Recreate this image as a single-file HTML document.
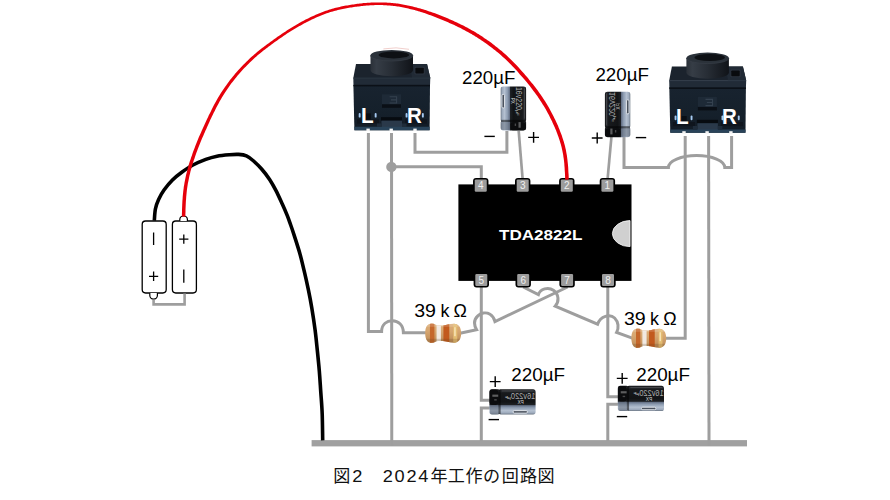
<!DOCTYPE html>
<html><head><meta charset="utf-8"><title>circuit</title>
<style>html,body{margin:0;padding:0;background:#fff;width:890px;height:500px;overflow:hidden}svg{display:block}</style>
</head><body>
<svg width="890" height="500" viewBox="0 0 890 500">
<rect width="890" height="500" fill="#fff"/>
<defs>
<linearGradient id="capg" x1="0" x2="1" y1="0" y2="0">
 <stop offset="0" stop-color="#66717e"/><stop offset="0.05" stop-color="#9ba8ba"/>
 <stop offset="0.15" stop-color="#b4c0d0"/><stop offset="0.27" stop-color="#8c9bb0"/><stop offset="0.35" stop-color="#657186"/>
 <stop offset="0.385" stop-color="#1d2024"/><stop offset="0.5" stop-color="#121416"/>
 <stop offset="0.85" stop-color="#17191c"/><stop offset="0.94" stop-color="#2c2f34"/><stop offset="1" stop-color="#101113"/>
</linearGradient>
<linearGradient id="cylg" x1="0" x2="1" y1="0" y2="0">
 <stop offset="0" stop-color="#2a3038"/><stop offset="0.14" stop-color="#363d46"/>
 <stop offset="0.5" stop-color="#272d35"/><stop offset="0.85" stop-color="#171b21"/><stop offset="1" stop-color="#101318"/>
</linearGradient>
<linearGradient id="bodyg" x1="0" x2="0" y1="0" y2="1">
 <stop offset="0" stop-color="#18232f"/><stop offset="0.6" stop-color="#15202b"/><stop offset="1" stop-color="#121b25"/>
</linearGradient>
<linearGradient id="resg" x1="0" x2="0" y1="0" y2="1">
 <stop offset="0" stop-color="#dcae78"/><stop offset="0.4" stop-color="#d6a670"/><stop offset="1" stop-color="#bb8a56"/>
</linearGradient>

<!-- capacitor: upright, leads at bottom (not drawn), silver stripe at left. origin = top-left, 25.4 x 44 -->
<g id="cap">
 <path d="M2.6,0 L22.8,0 Q25.4,0 25.4,2.4 L25.4,33.4 L24.9,34.6 L25.4,35.8 L25.4,41.6 Q25.4,44 22.6,44 L2.8,44 Q0,44 0,41.6 L0,35.8 L0.5,34.6 L0,33.4 L0,2.4 Q0,0 2.6,0 Z" fill="url(#capg)"/>
 <rect x="0.4" y="33.3" width="24.6" height="2.2" fill="#000" opacity="0.5"/>
 <rect x="0.2" y="35.5" width="9.4" height="8" rx="2" fill="#5d6774" opacity="0.45"/>
 <rect x="9.6" y="35.6" width="15.6" height="8.2" rx="2.4" fill="#0b0c0e"/>
 <rect x="17.8" y="35.6" width="2.2" height="5.6" fill="#d8d8d8" opacity="0.4"/>
 <rect x="14" y="37" width="1.4" height="2.4" fill="#d8d8d8" opacity="0.3"/>
 <rect x="1.3" y="7.8" width="2.5" height="13.6" rx="1.1" fill="#4a525e" stroke="#f1f4f8" stroke-width="0.8"/>
 <g transform="translate(15.4,2.6) rotate(90)" font-family="Liberation Sans, sans-serif" fill="#d9d9d9">
  <text x="-2.3" y="0" font-size="8.4" textLength="23.2" lengthAdjust="spacingAndGlyphs" fill="#bdbdbd" opacity="0.9">16v220</text>
  <text x="21" y="-0.4" font-size="4.2" textLength="5.6" lengthAdjust="spacingAndGlyphs">µF</text>
  <text x="8.6" y="5" font-size="4.8" textLength="6" lengthAdjust="spacingAndGlyphs" fill="#d6d6d6">PX</text>
 </g>
 <rect x="23.2" y="2" width="1" height="30" fill="#777" opacity="0.35"/>
</g>

<!-- resistor: origin = left-centre, length 35.5, height 19 -->
<g id="res">
 <clipPath id="resclip"><path d="M0,0 C0,-6 2,-9.6 6.5,-9.6 C9.5,-9.6 10.5,-7.8 12.5,-7.8 L17,-7.8 C20,-7.8 24,-9.5 28.5,-9.5 C33,-9.5 35.5,-6 35.5,0 C35.5,6 33,9.5 28.5,9.5 C24,9.5 20,7.8 17,7.8 L12.5,7.8 C10.5,7.8 9.5,9.6 6.5,9.6 C2,9.6 0,6 0,0 Z"/></clipPath>
 <path d="M0,0 C0,-6 2,-9.6 6.5,-9.6 C9.5,-9.6 10.5,-7.8 12.5,-7.8 L17,-7.8 C20,-7.8 24,-9.5 28.5,-9.5 C33,-9.5 35.5,-6 35.5,0 C35.5,6 33,9.5 28.5,9.5 C24,9.5 20,7.8 17,7.8 L12.5,7.8 C10.5,7.8 9.5,9.6 6.5,9.6 C2,9.6 0,6 0,0 Z" fill="url(#resg)"/>
 <g clip-path="url(#resclip)">
  <rect x="4.7" y="-10" width="4.4" height="20" fill="#c5672b"/>
  <rect x="11.2" y="-10" width="4.3" height="20" fill="#f1e9e1"/>
  <rect x="18" y="-10" width="5.8" height="20" fill="#c25a1e"/>
  <rect x="27.7" y="-10" width="4" height="20" fill="#e3bc72"/>
  <rect x="28.6" y="-6" width="1.6" height="9" fill="#fff3d0" opacity="0.7"/>
  <rect x="0" y="-10" width="36" height="3.6" fill="#fff" opacity="0.16"/>
  <rect x="0" y="5.6" width="36" height="4.4" fill="#5a3a1a" opacity="0.2"/>
 </g>
</g>

<!-- jack: origin at (352,50): width 80, height 81 -->
<g id="jack">
 <!-- top face -->
 <path d="M4,14 L75,14 L78.3,28 L1.3,28 Z" fill="#1b232d"/>
 <path d="M58,14 L75,14 L78.3,28 L60,28 Z" fill="#212a35"/>
 <!-- ledge -->
 <path d="M1.3,28 L78.3,28 L78,35.4 L1.5,35.4 Z" fill="#212b37"/>
 <rect x="1.4" y="27.6" width="76.8" height="1" fill="#2a3542"/>
 <!-- front body -->
 <path d="M1.4,35 L78,35 L77.6,80.2 L2.4,80.2 Z" fill="url(#bodyg)"/>
 <rect x="1.5" y="34.8" width="76.5" height="1.6" fill="#0b1017"/>
 <!-- slot on top -->
 <rect x="62.4" y="16.8" width="10.4" height="7.8" rx="1" fill="#2b333e"/>
 <rect x="63.4" y="17.8" width="8.4" height="5.8" rx="0.8" fill="#090b0e"/>
 <!-- emboss -->
 <rect x="30" y="44.3" width="19" height="10.2" fill="#1e2a37"/>
 <path d="M37.6,46.8 L44.6,46.8 L44.6,53 L37.6,53 M39,49.9 L44.6,49.9" fill="none" stroke="#34414f" stroke-width="1.1"/>
 <rect x="30" y="54.3" width="19" height="3.5" fill="#0a0f16"/>
 <!-- dark hollows under L/R -->
 <rect x="13.8" y="63.4" width="5" height="6.4" fill="#0a0e14"/>
 <rect x="5" y="69.4" width="22" height="4.2" fill="#0f151d"/>
 <rect x="53" y="69.4" width="22" height="4.2" fill="#0f151d"/>
 <!-- bottom relief -->
 <rect x="29" y="67.2" width="21" height="3.6" fill="#070b10"/>
 <rect x="29.5" y="70.6" width="20.5" height="8" fill="#2a394a"/>
 <path d="M2.3,76.8 L77.7,76.8 L77.5,80.2 L2.5,80.2 Z" fill="#294359"/>
 <rect x="25" y="73.4" width="4.5" height="3.6" fill="#1f2c3a"/>
 <rect x="50" y="73.4" width="4.5" height="3.6" fill="#1f2c3a"/>
 <!-- cylinder -->
 <path d="M18.5,5.4 L18.5,20 A21.25,6.2 0 0 0 61,20 L61,5.4 Z" fill="url(#cylg)"/>
 <ellipse cx="39.75" cy="5.5" rx="21.25" ry="5.5" fill="#2b323a"/>
 <path d="M18.5,5.5 A21.25,5.5 0 0 0 39.75,11 A21.25,5.5 0 0 0 61,5.5" fill="none" stroke="#394049" stroke-width="0.9" opacity="0.7"/>
 <ellipse cx="41.8" cy="4.9" rx="15.2" ry="3.5" fill="#0d1014"/>
 <!-- small highlights -->
 <rect x="6.7" y="63" width="1.9" height="4.6" rx="0.9" fill="#a6caf2"/>
 <rect x="22.7" y="63" width="1.9" height="4.6" rx="0.9" fill="#a6caf2"/>
 <rect x="53.6" y="63" width="1.9" height="4.6" rx="0.9" fill="#a6caf2"/>
 <rect x="69.9" y="63" width="1.9" height="4.6" rx="0.9" fill="#a6caf2"/>
 <!-- white pin tips -->
 <rect x="14.4" y="78.6" width="3.4" height="2.6" fill="#f4f4f4"/>
 <rect x="37.5" y="78.6" width="3.4" height="2.6" fill="#f4f4f4"/>
 <rect x="61.3" y="78.6" width="3.4" height="2.6" fill="#f4f4f4"/>
</g>
</defs>
<rect x="311.6" y="440.1" width="435.4" height="6.3" fill="#a0a0a0"/>
<path d="M368.4,133 L368.4,331.5 L381.6,331.5 C381.6,316.8 403.4,316.8 403.4,332.8 L426,332.8" fill="none" stroke="#9e9e9e" stroke-width="3" stroke-linejoin="miter" />
<path d="M391.5,133 L391.8,446" fill="none" stroke="#9e9e9e" stroke-width="3" stroke-linejoin="miter" />
<circle cx="391.4" cy="166.9" r="5.2" fill="#9e9e9e"/>
<path d="M391.5,166.7 L481.3,166.7 L481.3,180" fill="none" stroke="#9e9e9e" stroke-width="3" stroke-linejoin="miter" />
<path d="M415,133 L415,152.3 L506.9,152.3 L506.9,131" fill="none" stroke="#9e9e9e" stroke-width="3" stroke-linejoin="miter" />
<path d="M518.7,131 L522.7,180" fill="none" stroke="#9e9e9e" stroke-width="2.7" stroke-linejoin="miter" />
<path d="M611.4,137 L607.5,180" fill="none" stroke="#9e9e9e" stroke-width="2.7" stroke-linejoin="miter" />
<path d="M624,137 L624,167.5 L668.4,167.5 A28.2,12 0 0 1 724.8,167.5 L731.6,167.5 L731.6,136" fill="none" stroke="#9e9e9e" stroke-width="3" stroke-linejoin="miter" />
<path d="M685.2,136 L685.2,338.2 L666,338.2" fill="none" stroke="#9e9e9e" stroke-width="3" stroke-linejoin="miter" />
<path d="M708.6,136 L709,446" fill="none" stroke="#9e9e9e" stroke-width="3" stroke-linejoin="miter" />
<path d="M481.3,286 L481.3,400.3 L491,400.3" fill="none" stroke="#9e9e9e" stroke-width="3" stroke-linejoin="miter" />
<path d="M491,408 L481.3,408 L481.3,441" fill="none" stroke="#9e9e9e" stroke-width="3" stroke-linejoin="miter" />
<path d="M607.8,286 L607.8,396.8 L619,396.8" fill="none" stroke="#9e9e9e" stroke-width="3" stroke-linejoin="miter" />
<path d="M619,404.2 L607.8,404.2 L607.8,441" fill="none" stroke="#9e9e9e" stroke-width="3" stroke-linejoin="miter" />
<path d="M460,333.2 L476.6,329.8 C470,318 482,309.6 490,314.2 C493,316 494.4,319 495,321.6 L567.6,287" fill="none" stroke="#9e9e9e" stroke-width="3" stroke-linejoin="miter" />
<path d="M523.2,287 L538.4,294.6 C540.2,288.8 548.2,286.6 553.4,290.2 C559.2,294.4 559.2,301.6 555.2,306.2 L597.6,324.2 C600.4,316 610,313.4 614.6,318 C618.6,322 619,328 616.6,332.4 L633,338.4" fill="none" stroke="#9e9e9e" stroke-width="3" stroke-linejoin="miter" />
<rect x="458.4" y="184.4" width="173.1" height="96.5" fill="#000"/>
<path d="M630,220.6 A17.6,13 0 0 0 630,246.6 Z" fill="#d0d0d0" stroke="#f2f2f2" stroke-width="0.9"/>
<rect x="473.05" y="177.9" width="15.4" height="15" rx="3" fill="#000"/>
<rect x="474.75" y="179.4" width="12" height="12.3" rx="1.2" fill="#9c9c9c"/>
<text x="480.75" y="189.1" text-anchor="middle" font-family="Liberation Sans, sans-serif" font-size="10" fill="#f0f0f0">4</text>
<rect x="515.00" y="177.9" width="15.4" height="15" rx="3" fill="#000"/>
<rect x="516.70" y="179.4" width="12" height="12.3" rx="1.2" fill="#9c9c9c"/>
<text x="522.7" y="189.1" text-anchor="middle" font-family="Liberation Sans, sans-serif" font-size="10" fill="#f0f0f0">3</text>
<rect x="559.10" y="177.9" width="15.4" height="15" rx="3" fill="#000"/>
<rect x="560.80" y="179.4" width="12" height="12.3" rx="1.2" fill="#9c9c9c"/>
<text x="566.8" y="189.1" text-anchor="middle" font-family="Liberation Sans, sans-serif" font-size="10" fill="#f0f0f0">2</text>
<rect x="599.70" y="177.9" width="15.4" height="15" rx="3" fill="#000"/>
<rect x="601.40" y="179.4" width="12" height="12.3" rx="1.2" fill="#9c9c9c"/>
<text x="607.4" y="189.1" text-anchor="middle" font-family="Liberation Sans, sans-serif" font-size="10" fill="#f0f0f0">1</text>
<rect x="473.60" y="272.6" width="15.4" height="15" rx="3" fill="#000"/>
<rect x="475.30" y="273.9" width="12" height="12" rx="1.2" fill="#9c9c9c"/>
<text x="481.3" y="283.5" text-anchor="middle" font-family="Liberation Sans, sans-serif" font-size="10" fill="#f0f0f0">5</text>
<rect x="515.50" y="272.6" width="15.4" height="15" rx="3" fill="#000"/>
<rect x="517.20" y="273.9" width="12" height="12" rx="1.2" fill="#9c9c9c"/>
<text x="523.2" y="283.5" text-anchor="middle" font-family="Liberation Sans, sans-serif" font-size="10" fill="#f0f0f0">6</text>
<rect x="559.40" y="272.6" width="15.4" height="15" rx="3" fill="#000"/>
<rect x="561.10" y="273.9" width="12" height="12" rx="1.2" fill="#9c9c9c"/>
<text x="567.1" y="283.5" text-anchor="middle" font-family="Liberation Sans, sans-serif" font-size="10" fill="#f0f0f0">7</text>
<rect x="600.30" y="272.6" width="15.4" height="15" rx="3" fill="#000"/>
<rect x="602.00" y="273.9" width="12" height="12" rx="1.2" fill="#9c9c9c"/>
<text x="608.0" y="283.5" text-anchor="middle" font-family="Liberation Sans, sans-serif" font-size="10" fill="#f0f0f0">8</text>
<text x="499" y="240.4" font-family="Liberation Sans, sans-serif" font-weight="bold" font-size="15.2" fill="#fff" textLength="83.4" lengthAdjust="spacingAndGlyphs">TDA2822L</text>
<use href="#jack" x="352" y="50"/>
<use href="#jack" x="667.9" y="52.6"/>
<path d="M383.4,48.9 Q396,46.6 409,49.3" fill="none" stroke="#e9b4ae" stroke-width="0.8" opacity="0.8"/>
<g font-family="Liberation Sans, sans-serif" font-weight="bold" font-size="21.6" fill="#fff"><text transform="translate(360.9,123.4) scale(0.96,1)">L</text><text transform="translate(407.0,123.4) scale(0.95,1)">R</text></g>
<g font-family="Liberation Sans, sans-serif" font-weight="bold" font-size="21.6" fill="#fff"><text transform="translate(675.9,124.1) scale(0.96,1)">L</text><text transform="translate(722.0,124.1) scale(0.95,1)">R</text></g>
<use href="#cap" transform="translate(500.7,86.6) scale(1,0.998)"/>
<use href="#cap" transform="translate(630.3,91.7) scale(-1,1.036)"/>
<use href="#cap" transform="translate(535.6,414.4) rotate(90) scale(-0.99,1.05)"/>
<use href="#cap" transform="translate(664,411) rotate(90) scale(-0.99,1.05)"/>
<use href="#res" transform="translate(425.2,333.2) scale(1.012,1)"/>
<use href="#res" transform="translate(631.4,338.2) scale(0.98,1)"/>
<rect x="142.2" y="221" width="24" height="72" rx="3.4" fill="#fff" stroke="#000" stroke-width="1.3"/>
<rect x="172.4" y="221" width="24" height="72" rx="3.4" fill="#fff" stroke="#000" stroke-width="1.3"/>
<path d="M149.8,293 L149.8,295.6 A3.8,3.6 0 0 0 157.4,295.6 L157.4,293" fill="#fff" stroke="#000" stroke-width="1.2"/>
<path d="M179.8,221 L179.8,219.6 A3.8,3.6 0 0 1 187.4,219.6 L187.4,221" fill="#fff" stroke="#000" stroke-width="1.2"/>
<path d="M153.6,232.4 L153.6,245 M153.6,271.6 L153.6,281 M149,276.3 L158.2,276.3 M183.8,234.4 L183.8,243.8 M179.2,239.1 L188.4,239.1 M183.8,269.6 L183.8,282.8" stroke="#000" stroke-width="1.3" fill="none"/>
<path d="M153.6,299.4 L153.6,304.4 L184.6,304.4 L184.6,293.6" fill="none" stroke="#9e9e9e" stroke-width="2.6"/>
<path d="M154.3,220.6 C154.5,218.7 154.7,212.5 155.4,209.0 C156.1,205.5 157.1,202.6 158.6,199.4 C160.1,196.2 161.9,193.0 164.2,189.8 C166.5,186.6 169.3,183.1 172.2,180.2 C175.1,177.3 178.3,174.7 181.8,172.2 C185.3,169.7 189.0,167.1 193.0,165.0 C197.0,162.9 201.8,160.9 205.8,159.4 C209.8,157.9 213.0,157.0 217.0,156.2 C221.0,155.4 226.0,155.0 229.6,154.7 C233.2,154.4 235.8,154.2 238.6,154.4 C241.4,154.6 243.9,154.8 246.4,155.9 C248.9,157.0 251.1,158.8 253.6,161.0 C256.1,163.2 258.9,165.9 261.6,169.0 C264.3,172.1 267.2,175.8 269.6,179.4 C272.0,183.0 273.9,186.5 276.0,190.6 C278.1,194.7 280.5,200.1 282.4,204.2 C284.3,208.3 285.8,211.9 287.2,215.4 C288.6,218.9 289.5,221.7 290.7,225.0 C291.9,228.3 292.7,230.7 294.2,235.4 C295.7,240.1 298.0,247.1 299.7,253.0 C301.4,258.9 302.6,264.4 304.1,270.6 C305.6,276.8 307.2,284.2 308.5,290.4 C309.8,296.6 310.7,301.4 311.8,308.0 C312.9,314.6 314.2,323.1 315.1,330.0 C316.0,336.9 316.5,342.4 317.2,349.2 C317.9,356.0 318.7,363.6 319.3,370.8 C319.9,378.0 320.3,385.2 320.8,392.4 C321.3,399.6 321.9,406.0 322.2,414.0 C322.5,422.0 322.6,436.0 322.7,440.4" fill="none" stroke="#000" stroke-width="3.6"/>
<path d="M185.3,216.7 L185.4,215.4 L185.4,213.8 L185.5,211.9 L185.5,209.8 L185.6,207.6 L185.7,205.3 L185.8,203.1 L185.9,201.0 L186.1,199.1 L186.2,197.1 L186.4,195.1 L186.6,193.1 L186.8,191.1 L187.0,189.2 L187.3,187.2 L187.6,185.3 L187.9,183.3 L188.3,181.4 L188.7,179.5 L189.1,177.5 L189.5,175.6 L190.0,173.7 L190.4,171.8 L190.9,169.9 L191.5,167.9 L192.0,166.0 L192.6,164.1 L193.2,162.2 L193.8,160.3 L194.5,158.4 L195.1,156.5 L195.8,154.6 L196.4,152.8 L197.1,150.9 L197.8,149.1 L198.5,147.3 L199.2,145.5 L199.9,143.8 L200.6,142.0 L201.3,140.3 L202.0,138.6 L202.7,137.0 L203.4,135.4 L204.1,133.8 L204.8,132.2 L205.5,130.5 L206.3,128.9 L207.0,127.2 L207.8,125.5 L208.6,123.7 L209.4,121.9 L210.2,120.1 L211.1,118.3 L211.9,116.5 L212.8,114.7 L213.7,112.8 L214.7,111.0 L215.6,109.0 L216.6,107.1 L217.6,105.2 L218.7,103.2 L219.7,101.3 L220.8,99.4 L221.9,97.6 L223.0,95.8 L224.1,94.0 L225.2,92.2 L226.4,90.4 L227.6,88.7 L228.8,87.0 L230.0,85.3 L231.2,83.6 L232.5,82.0 L233.7,80.4 L235.0,78.8 L236.3,77.2 L237.6,75.6 L239.0,74.1 L240.3,72.5 L241.6,71.1 L242.9,69.6 L244.3,68.1 L245.7,66.7 L247.1,65.3 L248.4,63.9 L249.8,62.5 L251.2,61.2 L252.5,60.0 L253.8,58.7 L255.1,57.6 L256.4,56.4 L257.6,55.3 L258.9,54.3 L260.2,53.2 L261.4,52.2 L262.6,51.2 L263.8,50.3 L265.0,49.4 L266.1,48.5 L267.3,47.7 L268.4,46.8 L269.5,46.0 L270.6,45.2 L271.8,44.3 L272.9,43.5 L274.1,42.6 L275.2,41.8 L276.4,41.0 L277.5,40.2 L278.7,39.3 L279.8,38.5 L281.0,37.7 L282.2,36.9 L283.4,36.1 L284.6,35.3 L285.8,34.4 L287.0,33.6 L288.3,32.8 L289.5,32.0 L290.7,31.3 L291.9,30.5 L293.2,29.7 L294.4,29.0 L295.7,28.2 L296.9,27.5 L298.2,26.8 L299.4,26.1 L300.7,25.4 L301.9,24.7 L303.1,24.0 L304.4,23.3 L305.6,22.7 L306.9,22.0 L308.1,21.4 L309.4,20.8 L310.6,20.2 L311.8,19.6 L313.1,19.0 L314.3,18.4 L315.6,17.8 L316.8,17.3 L318.0,16.7 L319.3,16.2 L320.5,15.7 L321.7,15.2 L323.0,14.7 L324.2,14.2 L325.5,13.8 L326.7,13.3 L327.9,12.9 L329.2,12.5 L330.4,12.1 L331.6,11.7 L332.9,11.4 L334.1,11.0 L335.3,10.7 L336.6,10.4 L337.8,10.1 L339.1,9.8 L340.3,9.5 L341.5,9.2 L342.8,9.0 L344.0,8.7 L345.3,8.5 L346.5,8.3 L347.7,8.0 L349.0,7.8 L350.2,7.6 L351.5,7.4 L352.7,7.2 L353.9,7.0 L355.2,6.8 L356.4,6.7 L357.7,6.5 L358.9,6.4 L360.2,6.2 L361.4,6.1 L362.6,5.9 L363.9,5.8 L365.1,5.7 L366.4,5.6 L367.6,5.5 L368.8,5.4 L370.1,5.3 L371.3,5.3 L372.6,5.2 L373.8,5.2 L375.0,5.1 L376.3,5.1 L377.5,5.1 L378.7,5.1 L380.0,5.1 L381.2,5.1 L382.5,5.1 L383.7,5.2 L384.9,5.2 L386.2,5.3 L387.4,5.4 L388.6,5.5 L389.9,5.6 L391.1,5.7 L392.4,5.8 L393.6,6.0 L394.8,6.1 L396.1,6.3 L397.3,6.5 L398.5,6.6 L399.8,6.8 L401.0,7.1 L402.2,7.3 L403.5,7.5 L404.7,7.8 L405.9,8.0 L407.2,8.3 L408.4,8.6 L409.7,8.9 L410.9,9.2 L412.1,9.5 L413.4,9.8 L414.6,10.1 L415.8,10.5 L417.1,10.8 L418.3,11.2 L419.6,11.6 L420.8,11.9 L422.0,12.3 L423.3,12.7 L424.5,13.1 L425.7,13.6 L427.0,14.0 L428.2,14.4 L429.5,14.9 L430.7,15.3 L431.9,15.8 L433.2,16.2 L434.4,16.7 L435.7,17.2 L436.9,17.7 L438.1,18.2 L439.4,18.7 L440.6,19.2 L441.9,19.7 L443.1,20.2 L444.3,20.7 L445.6,21.3 L446.8,21.8 L448.1,22.3 L449.3,22.9 L450.5,23.5 L451.8,24.0 L453.0,24.6 L454.3,25.1 L455.5,25.7 L456.7,26.3 L458.0,26.9 L459.2,27.5 L460.5,28.1 L461.7,28.8 L462.9,29.4 L464.2,30.0 L465.4,30.7 L466.7,31.4 L467.9,32.0 L469.1,32.7 L470.4,33.4 L471.6,34.1 L472.8,34.9 L474.1,35.6 L475.3,36.4 L476.5,37.1 L477.8,37.9 L479.0,38.7 L480.3,39.6 L481.6,40.4 L482.9,41.3 L484.2,42.2 L485.4,43.1 L486.8,44.0 L488.1,45.0 L489.4,46.0 L490.8,47.0 L492.2,48.1 L493.6,49.2 L495.1,50.3 L496.5,51.4 L497.9,52.6 L499.4,53.8 L500.8,55.1 L502.3,56.4 L503.8,57.7 L505.3,59.1 L506.8,60.5 L508.3,62.0 L509.8,63.5 L511.3,64.9 L512.7,66.4 L514.2,68.0 L515.6,69.5 L517.1,71.1 L518.5,72.7 L519.9,74.4 L521.3,76.0 L522.7,77.5 L524.0,79.1 L525.3,80.6 L526.6,82.1 L527.8,83.6 L529.0,85.1 L530.2,86.6 L531.3,88.0 L532.4,89.4 L533.5,90.9 L534.5,92.3 L535.6,93.7 L536.5,95.0 L537.5,96.3 L538.4,97.7 L539.3,99.0 L540.2,100.4 L541.1,101.8 L542.0,103.2 L542.9,104.7 L543.8,106.1 L544.7,107.6 L545.6,109.1 L546.4,110.6 L547.2,112.1 L548.0,113.6 L548.9,115.1 L549.7,116.7 L550.4,118.2 L551.2,119.8 L552.0,121.3 L552.7,122.9 L553.4,124.4 L554.1,126.0 L554.8,127.5 L555.4,129.1 L556.1,130.6 L556.7,132.2 L557.3,133.7 L557.8,135.3 L558.4,136.8 L558.9,138.3 L559.4,139.8 L559.9,141.3 L560.3,142.8 L560.8,144.3 L561.2,145.8 L561.6,147.3 L561.9,148.8 L562.3,150.4 L562.6,151.9 L562.9,153.5 L563.2,155.1 L563.4,156.7 L563.7,158.4 L563.9,160.0 L564.1,161.8 L564.3,163.6 L564.4,165.5 L564.6,167.8 L564.7,170.1 L564.9,172.4 L565.0,174.7 L565.1,176.7 L565.1,178.4 L565.2,179.7 L568.8,179.5 L568.7,178.2 L568.7,176.5 L568.6,174.5 L568.4,172.2 L568.3,169.9 L568.2,167.5 L568.0,165.3 L567.8,163.2 L567.6,161.4 L567.4,159.6 L567.2,157.9 L567.0,156.2 L566.7,154.5 L566.4,152.9 L566.1,151.3 L565.8,149.6 L565.4,148.0 L565.1,146.4 L564.7,144.9 L564.2,143.3 L563.8,141.8 L563.3,140.3 L562.8,138.7 L562.3,137.2 L561.8,135.6 L561.2,134.0 L560.6,132.4 L560.0,130.9 L559.4,129.3 L558.7,127.7 L558.1,126.1 L557.4,124.5 L556.7,122.9 L556.0,121.4 L555.2,119.8 L554.4,118.2 L553.6,116.6 L552.8,115.0 L552.0,113.4 L551.2,111.9 L550.4,110.4 L549.5,108.8 L548.7,107.3 L547.8,105.8 L546.9,104.3 L546.0,102.8 L545.1,101.3 L544.2,99.9 L543.2,98.5 L542.3,97.1 L541.4,95.7 L540.4,94.3 L539.4,92.9 L538.4,91.5 L537.4,90.1 L536.4,88.7 L535.3,87.3 L534.1,85.8 L533.0,84.3 L531.8,82.9 L530.6,81.4 L529.3,79.9 L528.1,78.3 L526.8,76.8 L525.4,75.2 L524.0,73.6 L522.6,72.0 L521.2,70.4 L519.7,68.7 L518.2,67.1 L516.8,65.5 L515.3,64.0 L513.8,62.4 L512.3,60.9 L510.8,59.4 L509.2,58.0 L507.7,56.5 L506.2,55.1 L504.7,53.7 L503.2,52.4 L501.7,51.1 L500.2,49.9 L498.7,48.7 L497.3,47.5 L495.8,46.4 L494.4,45.3 L493.0,44.2 L491.6,43.1 L490.2,42.1 L488.8,41.1 L487.5,40.2 L486.2,39.3 L484.8,38.4 L483.5,37.5 L482.3,36.6 L481.0,35.8 L479.7,34.9 L478.4,34.1 L477.1,33.4 L475.9,32.6 L474.6,31.8 L473.4,31.1 L472.1,30.4 L470.9,29.7 L469.6,29.0 L468.3,28.3 L467.1,27.6 L465.8,26.9 L464.6,26.3 L463.3,25.6 L462.0,25.0 L460.8,24.4 L459.5,23.8 L458.3,23.2 L457.0,22.6 L455.7,22.0 L454.5,21.4 L453.2,20.8 L452.0,20.3 L450.7,19.7 L449.4,19.2 L448.2,18.6 L446.9,18.1 L445.7,17.6 L444.4,17.0 L443.1,16.5 L441.9,16.0 L440.6,15.5 L439.4,15.0 L438.1,14.6 L436.8,14.1 L435.6,13.6 L434.3,13.1 L433.1,12.7 L431.8,12.2 L430.5,11.8 L429.3,11.4 L428.0,10.9 L426.8,10.5 L425.5,10.1 L424.2,9.7 L423.0,9.3 L421.7,9.0 L420.4,8.6 L419.2,8.2 L417.9,7.9 L416.7,7.5 L415.4,7.2 L414.1,6.9 L412.9,6.6 L411.6,6.3 L410.3,6.0 L409.1,5.7 L407.8,5.4 L406.6,5.2 L405.3,4.9 L404.0,4.7 L402.8,4.4 L401.5,4.2 L400.2,4.0 L399.0,3.8 L397.7,3.6 L396.4,3.5 L395.2,3.3 L393.9,3.2 L392.6,3.0 L391.4,2.9 L390.1,2.8 L388.9,2.7 L387.6,2.7 L386.3,2.6 L385.1,2.5 L383.8,2.5 L382.5,2.4 L381.3,2.4 L380.0,2.4 L378.8,2.4 L377.5,2.4 L376.2,2.4 L375.0,2.4 L373.7,2.5 L372.4,2.5 L371.2,2.6 L369.9,2.7 L368.7,2.7 L367.4,2.8 L366.1,2.9 L364.9,3.0 L363.6,3.1 L362.4,3.3 L361.1,3.4 L359.8,3.5 L358.6,3.7 L357.3,3.8 L356.1,4.0 L354.8,4.2 L353.6,4.4 L352.3,4.5 L351.0,4.7 L349.8,4.9 L348.5,5.2 L347.3,5.4 L346.0,5.6 L344.7,5.8 L343.5,6.1 L342.2,6.3 L341.0,6.6 L339.7,6.9 L338.4,7.2 L337.2,7.5 L335.9,7.8 L334.7,8.1 L333.4,8.4 L332.1,8.8 L330.9,9.2 L329.6,9.5 L328.3,9.9 L327.1,10.4 L325.8,10.8 L324.5,11.2 L323.3,11.7 L322.0,12.2 L320.8,12.7 L319.5,13.2 L318.2,13.7 L317.0,14.2 L315.7,14.8 L314.4,15.4 L313.2,15.9 L311.9,16.5 L310.7,17.1 L309.4,17.7 L308.1,18.4 L306.9,19.0 L305.6,19.6 L304.4,20.3 L303.1,21.0 L301.9,21.6 L300.6,22.3 L299.3,23.0 L298.1,23.7 L296.8,24.5 L295.6,25.2 L294.3,25.9 L293.0,26.7 L291.8,27.4 L290.5,28.2 L289.3,29.0 L288.0,29.8 L286.8,30.6 L285.6,31.4 L284.3,32.2 L283.1,33.0 L281.9,33.8 L280.7,34.7 L279.5,35.5 L278.3,36.3 L277.1,37.1 L276.0,38.0 L274.8,38.8 L273.7,39.6 L272.5,40.5 L271.4,41.3 L270.2,42.1 L269.1,43.0 L267.9,43.8 L266.8,44.6 L265.6,45.5 L264.5,46.3 L263.3,47.2 L262.1,48.1 L260.9,49.1 L259.6,50.1 L258.4,51.1 L257.1,52.1 L255.8,53.2 L254.5,54.3 L253.2,55.4 L251.9,56.6 L250.5,57.8 L249.2,59.1 L247.8,60.4 L246.4,61.8 L245.0,63.2 L243.6,64.6 L242.2,66.1 L240.8,67.6 L239.4,69.0 L238.0,70.6 L236.7,72.1 L235.3,73.6 L234.0,75.2 L232.7,76.8 L231.3,78.4 L230.0,80.1 L228.8,81.8 L227.5,83.5 L226.3,85.2 L225.0,86.9 L223.8,88.7 L222.6,90.5 L221.4,92.3 L220.3,94.1 L219.1,95.9 L218.0,97.8 L216.9,99.7 L215.8,101.7 L214.8,103.6 L213.7,105.6 L212.7,107.6 L211.7,109.5 L210.8,111.4 L209.9,113.2 L208.9,115.1 L208.1,116.9 L207.2,118.7 L206.4,120.5 L205.6,122.3 L204.8,124.1 L204.0,125.8 L203.2,127.5 L202.4,129.2 L201.7,130.8 L201.0,132.4 L200.3,134.0 L199.6,135.6 L198.8,137.3 L198.1,139.0 L197.4,140.7 L196.7,142.5 L196.0,144.3 L195.3,146.1 L194.6,147.9 L193.9,149.8 L193.2,151.6 L192.5,153.5 L191.9,155.4 L191.2,157.3 L190.6,159.2 L189.9,161.1 L189.3,163.1 L188.7,165.0 L188.1,167.0 L187.6,168.9 L187.1,170.9 L186.6,172.9 L186.1,174.8 L185.7,176.8 L185.3,178.8 L184.9,180.7 L184.5,182.7 L184.2,184.7 L183.8,186.7 L183.6,188.7 L183.3,190.8 L183.1,192.8 L182.9,194.8 L182.7,196.8 L182.6,198.8 L182.4,200.8 L182.3,202.9 L182.2,205.1 L182.1,207.4 L182.0,209.7 L182.0,211.8 L181.9,213.7 L181.9,215.3 L181.9,216.5 Z" fill="#e6000b"/>
<text x="462.0" y="83.9" font-family="Liberation Sans, sans-serif" font-size="17.9" fill="#000" textLength="53.4" lengthAdjust="spacingAndGlyphs">220µF</text>
<text x="595.4" y="80.7" font-family="Liberation Sans, sans-serif" font-size="17.9" fill="#000" textLength="53.6" lengthAdjust="spacingAndGlyphs">220µF</text>
<text x="511.3" y="381.1" font-family="Liberation Sans, sans-serif" font-size="17.9" fill="#000" textLength="53.8" lengthAdjust="spacingAndGlyphs">220µF</text>
<text x="636.2" y="380.9" font-family="Liberation Sans, sans-serif" font-size="17.9" fill="#000" textLength="53.8" lengthAdjust="spacingAndGlyphs">220µF</text>
<text font-family="Liberation Sans, sans-serif" font-size="17.9" fill="#000" x="414.2" y="317" textLength="21.8" lengthAdjust="spacingAndGlyphs">39</text>
<text font-family="Liberation Sans, sans-serif" font-size="17.9" fill="#000" x="440.4" y="317">k</text>
<text font-family="Liberation Sans, sans-serif" font-size="17.9" fill="#000" x="453.6" y="317">Ω</text>
<text font-family="Liberation Sans, sans-serif" font-size="17.9" fill="#000" x="623.9000000000001" y="324.7" textLength="21.8" lengthAdjust="spacingAndGlyphs">39</text>
<text font-family="Liberation Sans, sans-serif" font-size="17.9" fill="#000" x="650.1" y="324.7">k</text>
<text font-family="Liberation Sans, sans-serif" font-size="17.9" fill="#000" x="663.3000000000001" y="324.7">Ω</text>
<path d="M484.40000000000003,136.4 L494.8,136.4" stroke="#000" stroke-width="1.4" fill="none"/>
<path d="M528.2,137.4 L539.0,137.4 M533.6,132.0 L533.6,142.8" stroke="#000" stroke-width="1.4" fill="none"/>
<path d="M591.8000000000001,138 L602.6,138 M597.2,132.6 L597.2,143.4" stroke="#000" stroke-width="1.4" fill="none"/>
<path d="M635.8,137.6 L646.2,137.6" stroke="#000" stroke-width="1.4" fill="none"/>
<path d="M489.8,381.6 L500.59999999999997,381.6 M495.2,376.20000000000005 L495.2,387.0" stroke="#000" stroke-width="1.4" fill="none"/>
<path d="M488.6,419.6 L499.0,419.6" stroke="#000" stroke-width="1.4" fill="none"/>
<path d="M616.8000000000001,378.4 L627.6,378.4 M622.2,373.0 L622.2,383.79999999999995" stroke="#000" stroke-width="1.4" fill="none"/>
<path d="M616.8,416.6 L627.2,416.6" stroke="#000" stroke-width="1.4" fill="none"/>
<g font-family="Liberation Sans, Noto Sans CJK JP, sans-serif" font-size="17.1" fill="#111">
<text x="333.3" y="481.5">図</text>
<text x="430.5" y="481.5">年</text>
<text x="447.7" y="481.5">工</text>
<text x="465.6" y="481.5">作</text>
<text x="482.9" y="481.5">の</text>
<text x="501.8" y="481.5">回</text>
<text x="519.9" y="481.5">路</text>
<text x="537.4" y="481.5">図</text>
</g>
<text transform="translate(357.4,481.6) scale(1.09,1)" text-anchor="middle" font-family="Liberation Sans, sans-serif" font-size="16.7" fill="#111">2</text>
<text transform="translate(387.7,481.6) scale(1.09,1)" text-anchor="middle" font-family="Liberation Sans, sans-serif" font-size="16.7" fill="#111">2</text>
<text transform="translate(399.55,481.6) scale(1.09,1)" text-anchor="middle" font-family="Liberation Sans, sans-serif" font-size="16.7" fill="#111">0</text>
<text transform="translate(411.6,481.6) scale(1.09,1)" text-anchor="middle" font-family="Liberation Sans, sans-serif" font-size="16.7" fill="#111">2</text>
<text transform="translate(423.2,481.6) scale(1.09,1)" text-anchor="middle" font-family="Liberation Sans, sans-serif" font-size="16.7" fill="#111">4</text>
</svg>
</body></html>
